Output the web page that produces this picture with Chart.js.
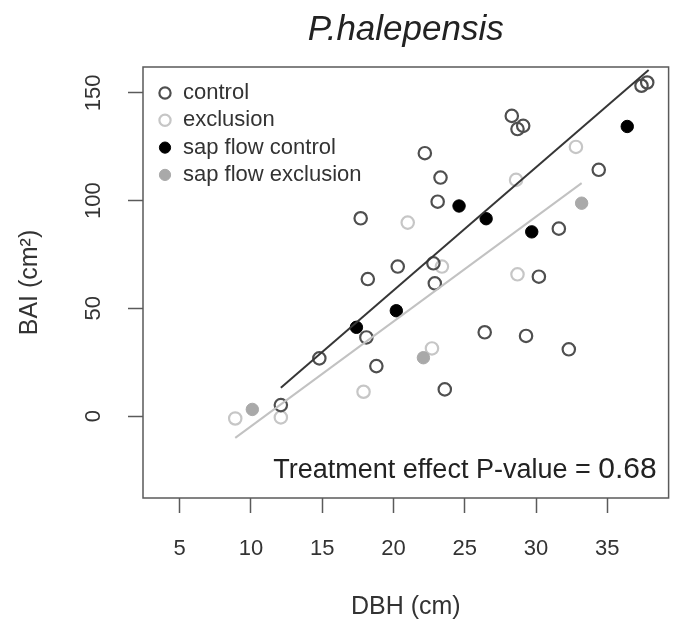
<!DOCTYPE html>
<html>
<head>
<meta charset="utf-8">
<title>P.halepensis</title>
<script src="https://cdn.jsdelivr.net/npm/chart.js@4"></script>
<style>
  html, body { margin: 0; padding: 0; background: #fff; }
  #chart { display: block; }
</style>
</head>
<body>
<canvas id="chart" width="677" height="623"></canvas>
<script>
// ----- data: DBH (cm) vs BAI (cm2) -----
const controlDBH = [12.1, 14.8, 17.7, 18.1, 18.2, 18.8, 20.3, 22.2, 22.8, 22.9, 23.1, 23.3,
                    23.6, 26.4, 28.3, 28.7, 29.1, 29.3, 30.2, 31.6, 32.3, 34.4, 37.4, 37.8];
const controlBAI = [5.1, 26.8, 91.8, 36.5, 63.6, 23.2, 69.4, 122.0, 70.9, 61.6, 99.5, 110.7,
                    12.4, 38.9, 139.3, 133.2, 134.7, 37.2, 64.7, 87.0, 31.0, 114.3, 153.3, 154.8];

const exclusionDBH = [8.9, 12.1, 17.9, 21.0, 22.7, 23.4, 28.6, 28.7, 32.8];
const exclusionBAI = [-1.1, -0.6, 11.3, 89.8, 31.4, 69.4, 109.6, 65.8, 124.9];

const sapControlDBH = [17.4, 20.2, 24.6, 26.5, 29.7, 36.4];
const sapControlBAI = [41.2, 48.9, 97.5, 91.6, 85.5, 134.4];

const sapExclusionDBH = [10.1, 22.1, 33.2];
const sapExclusionBAI = [3.1, 27.1, 98.8];

// fitted lines (end points)
const fitControlDBH = [12.1, 37.9];
const fitControlBAI = [13.2, 160.6];
const fitExclusionDBH = [8.9, 33.2];
const fitExclusionBAI = [-10.1, 108.1];

const seriesNames = ['control', 'exclusion', 'sap flow control', 'sap flow exclusion'];
const xTickValues = [5, 10, 15, 20, 25, 30, 35];
const yTickValues = [0, 50, 100, 150];
const pValueText = 'Treatment effect P-value = ';
const pValue = '0.68';

// ----- helpers -----
const FONT = "'Liberation Sans', Arial, Helvetica, sans-serif";
const toPoints = (xs, ys) => xs.map((x, i) => ({ x: x, y: ys[i] }));

Chart.defaults.font.family = FONT;
Chart.defaults.color = '#333';

// white background, frame, legend and p-value note
const framePlugin = {
  id: 'framePlugin',
  beforeDraw(chart) {
    const ctx = chart.ctx;
    ctx.save();
    ctx.fillStyle = '#fff';
    ctx.fillRect(0, 0, chart.width, chart.height);
    ctx.restore();
  },
  afterDraw(chart) {
    const { ctx, chartArea: a } = chart;
    ctx.save();
    ctx.strokeStyle = '#5a5a5a';
    ctx.lineWidth = 1.5;
    ctx.strokeRect(a.left, a.top, a.right - a.left, a.bottom - a.top);

    // legend (top left, inside the box)
    ctx.font = '22px ' + FONT;
    ctx.textBaseline = 'middle';
    ctx.textAlign = 'left';
    seriesNames.forEach((name, i) => {
      const ds = chart.data.datasets[i];
      const y = a.top + 26 + i * 27.3;
      ctx.beginPath();
      ctx.arc(a.left + 22, y, 5.6, 0, Math.PI * 2);
      if (ds.pointBackgroundColor !== 'transparent') {
        ctx.fillStyle = ds.pointBackgroundColor;
        ctx.fill();
      }
      ctx.lineWidth = ds.pointBorderWidth;
      ctx.strokeStyle = ds.pointBorderColor;
      ctx.stroke();
      ctx.fillStyle = '#333';
      ctx.fillText(name, a.left + 40, y);
    });

    // p-value note (bottom right)
    ctx.textBaseline = 'alphabetic';
    ctx.textAlign = 'right';
    ctx.fillStyle = '#222';
    ctx.font = '30px ' + FONT;
    const numW = ctx.measureText(pValue).width;
    ctx.fillText(pValue, a.right - 12, a.bottom - 20);
    ctx.font = '27px ' + FONT;
    ctx.fillText(pValueText, a.right - 12 - numW, a.bottom - 20);
    ctx.restore();
  }
};

const ctx = document.getElementById('chart').getContext('2d');
const chart = new Chart(ctx, {
  type: 'scatter',
  data: {
    datasets: [
      {
        label: seriesNames[0],
        data: toPoints(controlDBH, controlBAI),
        pointStyle: 'circle',
        pointRadius: 6.2,
        pointBackgroundColor: 'transparent',
        pointBorderColor: '#4f4f4f',
        pointBorderWidth: 2.2,
        order: 3
      },
      {
        label: seriesNames[1],
        data: toPoints(exclusionDBH, exclusionBAI),
        pointStyle: 'circle',
        pointRadius: 6.2,
        pointBackgroundColor: 'transparent',
        pointBorderColor: '#c6c6c6',
        pointBorderWidth: 2.2,
        order: 4
      },
      {
        label: seriesNames[2],
        data: toPoints(sapControlDBH, sapControlBAI),
        pointStyle: 'circle',
        pointRadius: 6.2,
        pointBackgroundColor: '#000',
        pointBorderColor: '#000',
        pointBorderWidth: 1,
        order: 2
      },
      {
        label: seriesNames[3],
        data: toPoints(sapExclusionDBH, sapExclusionBAI),
        pointStyle: 'circle',
        pointRadius: 6.2,
        pointBackgroundColor: '#a9a9a9',
        pointBorderColor: '#a9a9a9',
        pointBorderWidth: 1,
        order: 2
      },
      {
        label: 'fit control',
        type: 'line',
        data: toPoints(fitControlDBH, fitControlBAI),
        borderColor: '#363636',
        borderWidth: 2,
        pointRadius: 0,
        fill: false,
        order: 0
      },
      {
        label: 'fit exclusion',
        type: 'line',
        data: toPoints(fitExclusionDBH, fitExclusionBAI),
        borderColor: '#c2c2c2',
        borderWidth: 2,
        pointRadius: 0,
        fill: false,
        order: 1
      }
    ]
  },
  options: {
    responsive: false,
    animation: false,
    devicePixelRatio: 1,
    layout: { padding: { top: 0, right: 3, bottom: 0, left: 0 } },
    plugins: {
      legend: { display: false },
      tooltip: { enabled: false },
      title: {
        display: true,
        text: 'P.halepensis',
        fullSize: false,
        color: '#222',
        font: { size: 35, style: 'italic', weight: 'normal', lineHeight: 1.2 },
        padding: { top: 9, bottom: 16 }
      }
    },
    scales: {
      x: {
        type: 'linear',
        min: 2.43,
        max: 39.3,
        afterBuildTicks: s => { s.ticks = xTickValues.map(v => ({ value: v })); },
        afterFit: s => { s.height = 125; },
        ticks: { font: { size: 22 }, color: '#333', padding: 23, maxRotation: 0, autoSkip: false },
        grid: { display: true, drawOnChartArea: false, drawTicks: true, tickLength: 15, tickColor: '#5a5a5a', tickWidth: 1.5 },
        border: { display: false },
        title: { display: true, text: 'DBH (cm)', color: '#333', font: { size: 25, lineHeight: 1.2 }, padding: { top: 0, bottom: 1 } }
      },
      y: {
        type: 'linear',
        min: -38,
        max: 162,
        afterBuildTicks: s => { s.ticks = yTickValues.map(v => ({ value: v })); },
        afterFit: s => { s.width = 143; },
        ticks: { font: { size: 22 }, color: '#333', padding: 15.6, minRotation: 90, maxRotation: 90, crossAlign: 'center', autoSkip: false },
        grid: { display: true, drawOnChartArea: false, drawTicks: true, tickLength: 15, tickColor: '#5a5a5a', tickWidth: 1.5 },
        border: { display: false },
        title: { display: true, text: 'BAI (cm²)', color: '#333', font: { size: 25, lineHeight: 1.2 }, padding: { top: 15, bottom: 0 } }
      }
    }
  },
  plugins: [framePlugin]
});
</script>
</body>
</html>
